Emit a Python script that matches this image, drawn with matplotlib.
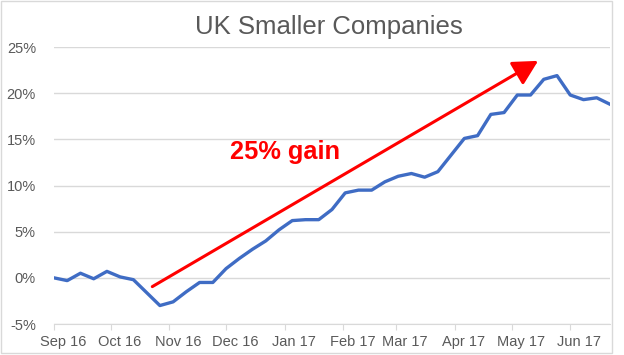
import matplotlib
matplotlib.use("Agg")

import matplotlib.pyplot as plt
import matplotlib.dates as mdates
from matplotlib.patches import Rectangle
from matplotlib.transforms import ScaledTranslation
import pandas as pd

# weekly returns of UK smaller companies, % since start
start_date = "2016-09-01"
returns = [
    0.0, -0.3, 0.5, -0.1, 0.7, 0.1, -0.2, -1.6, -3.0, -2.6,
    -1.5, -0.5, -0.5, 1.0, 2.1, 3.1, 4.0, 5.2, 6.2, 6.3,
    6.3, 7.4, 9.2, 9.5, 9.5, 10.4, 11.0, 11.3, 10.9, 11.5,
    13.3, 15.1, 15.4, 17.7, 17.9, 19.8, 19.8, 21.5, 21.9, 19.8,
    19.3, 19.5, 18.8,
]
dates = pd.date_range(start_date, periods=len(returns), freq="7D")

y_ticks = [-5, 0, 5, 10, 15, 20, 25]
title = "UK Smaller Companies"
gain_label = "25% gain"
arrow_from = ("2016-10-23", -0.95)
arrow_to = ("2017-05-15", 23.5)
label_at = ("2017-01-01", 12.9)

grey = "#595959"
grid_grey = "#d9d9d9"

plt.rcParams["font.family"] = ["Liberation Sans", "DejaVu Sans"]

fig = plt.figure(figsize=(6.24, 3.55), dpi=100)
ax = fig.add_axes([0.0865, 0.0873, 0.891, 0.7803])

ax.plot(dates, returns, color="#3f6cc4", lw=2.4, solid_joinstyle="round")

ax.set_xlim(dates[0], dates[-1])
ax.set_ylim(y_ticks[0], y_ticks[-1])
ax.set_yticks(y_ticks)
ax.set_yticklabels([f"{t}%" for t in y_ticks])
ax.grid(axis="y", color=grid_grey, lw=1)
ax.set_axisbelow(True)

ax.xaxis.set_major_locator(mdates.MonthLocator())
ax.xaxis.set_major_formatter(mdates.DateFormatter("%b %y"))

for side in ["top", "right", "left"]:
    ax.spines[side].set_visible(False)
ax.spines["bottom"].set_color(grid_grey)

ax.tick_params(axis="y", length=0, pad=13, labelsize=10.5, labelcolor=grey)
ax.tick_params(axis="x", length=4, color=grid_grey, pad=4, labelsize=10.5, labelcolor=grey)
shift = ScaledTranslation(0.09, 0, fig.dpi_scale_trans)
for lab in ax.get_xticklabels():
    lab.set_transform(lab.get_transform() + shift)

ax.annotate(
    "",
    xy=(pd.Timestamp(arrow_to[0]), arrow_to[1]),
    xytext=(pd.Timestamp(arrow_from[0]), arrow_from[1]),
    arrowprops=dict(arrowstyle="-|>,head_length=1.5,head_width=0.8",
                    color="#ff0000", lw=2.2, shrinkA=0, shrinkB=0,
                    mutation_scale=10),
)
ax.text(pd.Timestamp(label_at[0]), label_at[1], gain_label, color="#ff0000",
        fontsize=18.3, fontweight="bold", ha="center", va="baseline")

fig.text(0.527, 0.924, title, ha="center", va="center", fontsize=18.5, color=grey)

fig.patches.append(Rectangle((0.001, 0.005), 0.979, 0.993, transform=fig.transFigure,
                             fill=False, edgecolor=grid_grey, lw=1))

fig.savefig("out.png", dpi=100)
